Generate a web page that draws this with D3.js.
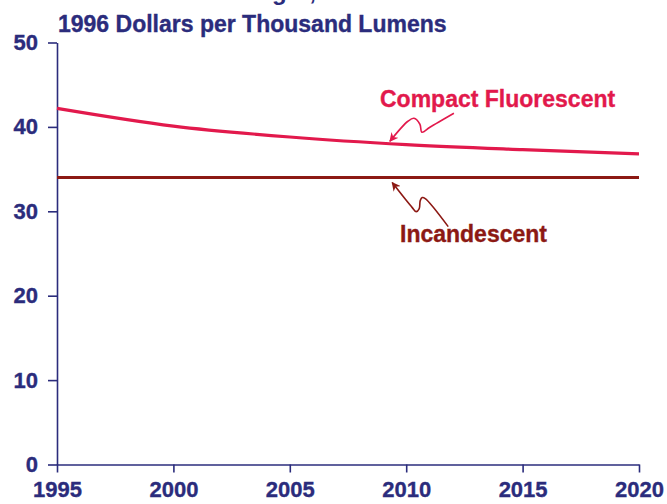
<!DOCTYPE html>
<html>
<head>
<meta charset="utf-8">
<script src="https://cdn.jsdelivr.net/npm/d3@7"></script>
<style>
  html, body { margin: 0; padding: 0; background: #fff; }
  svg { display: block; font-family: "Liberation Sans", Arial, sans-serif; font-weight: bold; }
</style>
</head>
<body>
<div id="chart"></div>
<script>
// chart data
var years = [1995, 2000, 2005, 2010, 2015, 2020];
var compactFluorescent = [42.2, 40.1, 38.8, 37.9, 37.3, 36.8];
var incandescent = [34.0, 34.0, 34.0, 34.0, 34.0, 34.0];
var xTicks = [1995, 2000, 2005, 2010, 2015, 2020];
var yTicks = [0, 10, 20, 30, 40, 50];

var navy = '#2b2c7c';
var cfColor = '#e2194c';
var incColor = '#8c1914';

var width = 667, height = 504;

var svg = d3.select('#chart')
  .append('svg')
  .attr('width', width)
  .attr('height', height);

var x = d3.scaleLinear().domain([1995, 2020]).range([57, 639]);
var y = d3.scaleLinear().domain([0, 50]).range([464.5, 42.5]);

// title (mostly cut off at the top, as in the original)
svg.append('text')
  .attr('x', 316)
  .attr('y', 0)
  .attr('text-anchor', 'end')
  .attr('font-size', 24)
  .attr('fill', navy)
  .text('Levelized Cost of Light,');

svg.append('text')
  .attr('x', 58)
  .attr('y', 32)
  .attr('font-size', 23)
  .attr('fill', navy)
  .attr('stroke', navy).attr('stroke-width', 0.35)
  .text('1996 Dollars per Thousand Lumens');

// axes
var yAxis = svg.append('g')
  .attr('transform', 'translate(' + x(1995) + ',0)')
  .call(d3.axisLeft(y).tickValues(yTicks).tickSize(9).tickSizeOuter(0).tickPadding(10));

var xAxis = svg.append('g')
  .attr('transform', 'translate(0,' + y(0) + ')')
  .call(d3.axisBottom(x).tickValues(xTicks).tickFormat(d3.format('d')).tickSize(8).tickSizeOuter(0).tickPadding(9));

[xAxis, yAxis].forEach(function(a) {
  a.selectAll('path, line').attr('stroke', navy).attr('stroke-width', 1.6);
  a.selectAll('text')
    .attr('fill', navy)
    .attr('stroke', navy).attr('stroke-width', 0.35)
    .attr('font-size', 22)
    .attr('font-family', '"Liberation Sans", Arial, sans-serif')
    .attr('font-weight', 'bold');
});
xAxis.selectAll('text').attr('dy', '0.71em');

// lines
var line = function(vals) {
  return d3.line()
    .x(function(d, i) { return x(years[i]); })
    .y(function(d) { return y(d); })
    .curve(d3.curveMonotoneX)(vals);
};

svg.append('path')
  .attr('d', line(incandescent))
  .attr('fill', 'none')
  .attr('stroke', incColor)
  .attr('stroke-width', 3);

svg.append('path')
  .attr('d', line(compactFluorescent))
  .attr('fill', 'none')
  .attr('stroke', cfColor)
  .attr('stroke-width', 3.2);

// arrow heads
var defs = svg.append('defs');
[['headCF', cfColor], ['headInc', incColor]].forEach(function(m) {
  defs.append('marker')
    .attr('id', m[0])
    .attr('viewBox', '0 0 10 10')
    .attr('refX', 9).attr('refY', 5)
    .attr('markerWidth', 9).attr('markerHeight', 9)
    .attr('markerUnits', 'userSpaceOnUse')
    .attr('orient', 'auto')
    .append('path')
    .attr('d', 'M0,0 L10,5 L0,10 L3,5 Z')
    .attr('fill', m[1]);
});

// labels with squiggly arrows
var squiggle = d3.line().curve(d3.curveCatmullRom.alpha(0.5));

var cfTip = [x(2009.3), y(38.3)];
svg.append('path')
  .attr('d', squiggle([[64, -28], [40, -14], [32, -9], [30, -17], [24, -23], [18, -20], [0, 0]].map(function(p) {
    return [cfTip[0] + p[0], cfTip[1] + p[1]];
  })))
  .attr('fill', 'none')
  .attr('stroke', cfColor)
  .attr('stroke-width', 1.6)
  .attr('marker-end', 'url(#headCF)');

svg.append('text')
  .attr('x', 380)
  .attr('y', 106.5)
  .attr('font-size', 23)
  .attr('fill', cfColor)
  .attr('stroke', cfColor).attr('stroke-width', 0.35)
  .text('Compact Fluorescent');

var incTip = [x(2009.4), y(33.4)];
svg.append('path')
  .attr('d', squiggle([[56, 44], [33, 16], [30, 15], [28, 18], [27, 26], [24, 29], [20, 25], [0, 0]].map(function(p) {
    return [incTip[0] + p[0], incTip[1] + p[1]];
  })))
  .attr('fill', 'none')
  .attr('stroke', incColor)
  .attr('stroke-width', 1.6)
  .attr('marker-end', 'url(#headInc)');

svg.append('text')
  .attr('x', 400)
  .attr('y', 242)
  .attr('font-size', 23)
  .attr('fill', incColor)
  .attr('stroke', incColor).attr('stroke-width', 0.35)
  .text('Incandescent');
</script>
</body>
</html>
